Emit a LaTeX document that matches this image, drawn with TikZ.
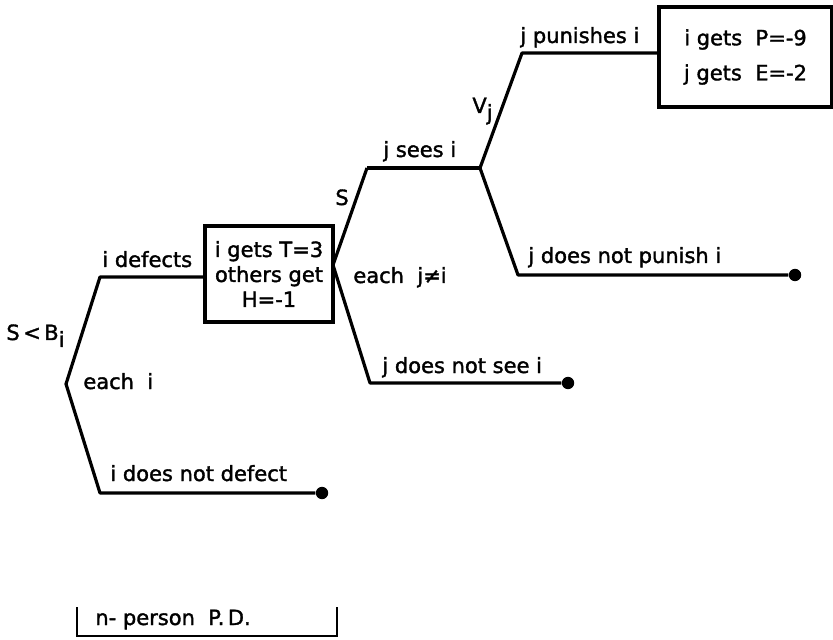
\documentclass[tikz,border=0pt]{standalone}
\usepackage{fontspec}
\setmainfont{DejaVu Sans}[UprightFeatures={FakeBold=1.6}]

\tikzset{
    branch/.style={line width=1.6pt, line join=round},
    payoff/.style={draw, line width=1.6pt, align=center, inner sep=0pt},
    leaf/.style={circle, fill, inner sep=0pt, minimum size=6.2pt},
    move/.style={anchor=base west, inner sep=0pt},
}

\begin{document}
\begin{tikzpicture}[x=0.5pt, y=-0.5pt, font=\fontsize{10.5}{12.5}\selectfont]
    \useasboundingbox (0,0) rectangle (833,640);

    % Decision points and branch starts
    \coordinate (root) at (66,384);
    \coordinate (defect) at (100,277);
    \coordinate (nodefect) at (100,493);
    \coordinate (cut) at (333,265);
    \coordinate (sees) at (367,168);
    \coordinate (notsee) at (370,383);
    \coordinate (punish) at (522,53);
    \coordinate (nopunish) at (518,275);

    % Payoff boxes
    \node[payoff, minimum width=64pt, minimum height=48pt] (gainbox) at (269,274)
        {i gets T=3\\others get\\H=-1};
    \node[payoff, minimum width=86.5pt, minimum height=50pt] (finebox) at (745.5,57)
        {i gets\ \ P=-9\\[5pt]j gets\ \ E=-2};

    % End points
    \node[leaf] (endA) at (322,493) {};
    \node[leaf] (endB) at (568,383) {};
    \node[leaf] (endC) at (795,275) {};

    % First stage: i defects or not
    \draw[branch] (gainbox.west |- defect) -- (defect) -- (root) -- (nodefect) -- (endA);

    % Second stage: j sees i or not
    \draw[branch] (sees) -- (cut) -- (notsee) -- (endB);
    \draw[branch] (sees) -- (480,168) coordinate (seen);

    % Third stage: j punishes i or not
    \draw[branch] (finebox.west |- punish) -- (punish) -- (seen) -- (nopunish) -- (endC);

    % Labels
    \node[move] (lroot) at (6,340) {S\,<\,B\raisebox{-3.5pt}{i}};
    \node[move] (leach) at (83,389) {each\ \ i};
    \node[move] (ldef) at (102,267) {i defects};
    \node[move] (lnodef) at (110,481) {i does not defect};
    \node[move] (lS) at (335,205) {S};
    \node[move] (leachj) at (353,283) {each\ \ j≠i};
    \node[move] (lsees) at (383,157) {j sees i};
    \node[move] (lnosee) at (382,373) {j does not see i};
    \node[move] (lV) at (472,113) {V\raisebox{-3.5pt}{j}};
    \node[move] (lpun) at (520,43) {j punishes i};
    \node[move] (lnopun) at (528,263) {j does not punish i};

    % Game name bracket
    \draw[line width=1.1pt] (77,607) -- (77,636) -- (337,636) -- (337,607);
    \node[move] (game) at (95,625) {n- person\ \ P.\,D.};
\end{tikzpicture}
\end{document}
